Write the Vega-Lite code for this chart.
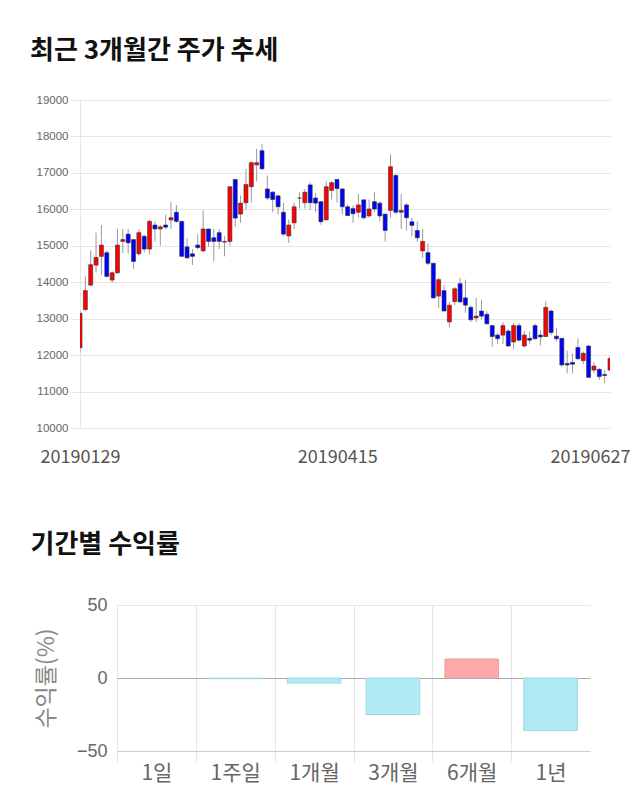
{
  "$schema": "https://vega.github.io/schema/vega-lite/v6.json",
  "background": "white",
  "padding": {"left": 30, "top": 38, "right": 0, "bottom": 0},
  "config": {"view": {"stroke": null}, "font": "Noto Sans CJK KR"},
  "datasets": {
    "price": [
      {"d":"20190129","o":12200,"h":13220,"l":12070,"c":13150},
      {"d":"20190130","o":13250,"h":14160,"l":13200,"c":13770},
      {"d":"20190131","o":13920,"h":14870,"l":13900,"c":14480},
      {"d":"20190207","o":14470,"h":15360,"l":14270,"c":14680},
      {"d":"20190208","o":14710,"h":15570,"l":14200,"c":15020},
      {"d":"20190211","o":14810,"h":14870,"l":14130,"c":14160},
      {"d":"20190212","o":14060,"h":14300,"l":13980,"c":14260},
      {"d":"20190213","o":14260,"h":15470,"l":14230,"c":15020},
      {"d":"20190214","o":15120,"h":15470,"l":14800,"c":15170},
      {"d":"20190215","o":15320,"h":15460,"l":14780,"c":15080},
      {"d":"20190218","o":15170,"h":15180,"l":14370,"c":14570},
      {"d":"20190219","o":14780,"h":15460,"l":14730,"c":15360},
      {"d":"20190220","o":15260,"h":15300,"l":14820,"c":14910},
      {"d":"20190221","o":14910,"h":15720,"l":14760,"c":15670},
      {"d":"20190222","o":15570,"h":15670,"l":15120,"c":15460},
      {"d":"20190225","o":15460,"h":15570,"l":15000,"c":15520},
      {"d":"20190226","o":15570,"h":15850,"l":15450,"c":15510},
      {"d":"20190227","o":15710,"h":16200,"l":15460,"c":15770},
      {"d":"20190228","o":15920,"h":16120,"l":15630,"c":15670},
      {"d":"20190304","o":15670,"h":15680,"l":14690,"c":14710},
      {"d":"20190305","o":14970,"h":15210,"l":14640,"c":14670},
      {"d":"20190306","o":14780,"h":14910,"l":14470,"c":14710},
      {"d":"20190307","o":15020,"h":15320,"l":14900,"c":14950},
      {"d":"20190308","o":14860,"h":15970,"l":14820,"c":15460},
      {"d":"20190311","o":15460,"h":15470,"l":14970,"c":15120},
      {"d":"20190312","o":15220,"h":15460,"l":14570,"c":15120},
      {"d":"20190313","o":15360,"h":15460,"l":14910,"c":15120},
      {"d":"20190314","o":15100,"h":15260,"l":14710,"c":15120},
      {"d":"20190315","o":15120,"h":16620,"l":15000,"c":16620},
      {"d":"20190318","o":16820,"h":16830,"l":15520,"c":15760},
      {"d":"20190319","o":15870,"h":16380,"l":15630,"c":16170},
      {"d":"20190320","o":16180,"h":17110,"l":15990,"c":16680},
      {"d":"20190321","o":16620,"h":17310,"l":16180,"c":17280},
      {"d":"20190322","o":17220,"h":17660,"l":16770,"c":17280},
      {"d":"20190325","o":17610,"h":17800,"l":17090,"c":17110},
      {"d":"20190326","o":16560,"h":16930,"l":16250,"c":16310},
      {"d":"20190327","o":16470,"h":16500,"l":15920,"c":16270},
      {"d":"20190328","o":16370,"h":16400,"l":15860,"c":16070},
      {"d":"20190329","o":15920,"h":16180,"l":15260,"c":15320},
      {"d":"20190401","o":15270,"h":15720,"l":15080,"c":15570},
      {"d":"20190402","o":15630,"h":16180,"l":15460,"c":16070},
      {"d":"20190403","o":16310,"h":16470,"l":16020,"c":16310},
      {"d":"20190404","o":16180,"h":16560,"l":16020,"c":16470},
      {"d":"20190405","o":16670,"h":16730,"l":15990,"c":16180},
      {"d":"20190408","o":16310,"h":16450,"l":15920,"c":16170},
      {"d":"20190409","o":16210,"h":16220,"l":15580,"c":15660},
      {"d":"20190410","o":15710,"h":16770,"l":15700,"c":16620},
      {"d":"20190411","o":16520,"h":16770,"l":16270,"c":16730},
      {"d":"20190412","o":16820,"h":16830,"l":16180,"c":16570},
      {"d":"20190415","o":16560,"h":16570,"l":15860,"c":16070},
      {"d":"20190416","o":16070,"h":16130,"l":15810,"c":15830},
      {"d":"20190417","o":16020,"h":16100,"l":15630,"c":15880},
      {"d":"20190418","o":15920,"h":16420,"l":15770,"c":16120},
      {"d":"20190419","o":16260,"h":16270,"l":15720,"c":15770},
      {"d":"20190422","o":15820,"h":16270,"l":15770,"c":16010},
      {"d":"20190423","o":16210,"h":16470,"l":15920,"c":16010},
      {"d":"20190424","o":16170,"h":16210,"l":15670,"c":15820},
      {"d":"20190425","o":15870,"h":15870,"l":15120,"c":15420},
      {"d":"20190426","o":15970,"h":17510,"l":15770,"c":17170},
      {"d":"20190429","o":16930,"h":16970,"l":15860,"c":15920},
      {"d":"20190430","o":15920,"h":16420,"l":15460,"c":15970},
      {"d":"20190502","o":16120,"h":16170,"l":15420,"c":15770},
      {"d":"20190503","o":15660,"h":15770,"l":15260,"c":15560},
      {"d":"20190507","o":15420,"h":15660,"l":15110,"c":15220},
      {"d":"20190508","o":14860,"h":15460,"l":14670,"c":15120},
      {"d":"20190509","o":14810,"h":15060,"l":14470,"c":14520},
      {"d":"20190510","o":14520,"h":14530,"l":13550,"c":13570},
      {"d":"20190513","o":13620,"h":14120,"l":13290,"c":14070},
      {"d":"20190514","o":13770,"h":13920,"l":13200,"c":13210},
      {"d":"20190515","o":12910,"h":13460,"l":12760,"c":13370},
      {"d":"20190516","o":13470,"h":13870,"l":13370,"c":13820},
      {"d":"20190517","o":13960,"h":14120,"l":13430,"c":13460},
      {"d":"20190520","o":13570,"h":14070,"l":13160,"c":13370},
      {"d":"20190521","o":13310,"h":13370,"l":12910,"c":12970},
      {"d":"20190522","o":13020,"h":13570,"l":12910,"c":13070},
      {"d":"20190523","o":13210,"h":13520,"l":12980,"c":13070},
      {"d":"20190524","o":13120,"h":13200,"l":12830,"c":12860},
      {"d":"20190527","o":12810,"h":12830,"l":12220,"c":12510},
      {"d":"20190528","o":12550,"h":12600,"l":12310,"c":12450},
      {"d":"20190529","o":12550,"h":12900,"l":12310,"c":12810},
      {"d":"20190530","o":12660,"h":12720,"l":12220,"c":12250},
      {"d":"20190531","o":12360,"h":12880,"l":12160,"c":12810},
      {"d":"20190603","o":12810,"h":12880,"l":12370,"c":12410},
      {"d":"20190604","o":12250,"h":12660,"l":12210,"c":12550},
      {"d":"20190605","o":12460,"h":12650,"l":12310,"c":12410},
      {"d":"20190607","o":12810,"h":12860,"l":12420,"c":12450},
      {"d":"20190610","o":12550,"h":12690,"l":12260,"c":12500},
      {"d":"20190611","o":12510,"h":13470,"l":12500,"c":13310},
      {"d":"20190612","o":13210,"h":13240,"l":12550,"c":12620},
      {"d":"20190613","o":12520,"h":12740,"l":12370,"c":12450},
      {"d":"20190614","o":12460,"h":12470,"l":11670,"c":11730},
      {"d":"20190617","o":11770,"h":12120,"l":11500,"c":11730},
      {"d":"20190618","o":11800,"h":12050,"l":11500,"c":11750},
      {"d":"20190619","o":12210,"h":12460,"l":11870,"c":11900},
      {"d":"20190620","o":11850,"h":12100,"l":11750,"c":12050},
      {"d":"20190621","o":12250,"h":12260,"l":11380,"c":11390},
      {"d":"20190624","o":11590,"h":11800,"l":11500,"c":11700},
      {"d":"20190625","o":11610,"h":11640,"l":11320,"c":11410},
      {"d":"20190626","o":11470,"h":11590,"l":11230,"c":11440},
      {"d":"20190627","o":11590,"h":11980,"l":11550,"c":11910}
    ],
    "ret": [
      {"p":"1일","v":0},
      {"p":"1주일","v":-0.5},
      {"p":"1개월","v":-3.5},
      {"p":"3개월","v":-25},
      {"p":"6개월","v":13},
      {"p":"1년","v":-36}
    ]
  },
  "vconcat": [
    {
      "title": {"text": "최근 3개월간 주가 추세", "anchor": "start", "fontSize": 26, "fontWeight": "bold", "color": "#111", "font": "Noto Sans CJK KR", "dx": -6, "offset": 30},
      "width": 530,
      "height": 328,
      "data": {"name": "price"},
      "encoding": {
        "x": {
          "field": "d", "type": "ordinal",
          "scale": {"type": "point", "padding": 0},
          "axis": {
            "values": ["20190129", "20190415", "20190627"],
            "title": null, "ticks": false, "domain": false, "grid": false,
            "labelAngle": 0, "labelFontSize": 18, "labelColor": "#555", "labelPadding": 20,
            "labelFont": "Noto Sans CJK KR", "labelOverlap": false,
            "labelOffset": {"condition": [
              {"test": "datum.value === '20190627'", "value": -20},
              {"test": "datum.value === '20190415'", "value": -5}
            ], "value": 0}
          }
        }
      },
      "layer": [
        {
          "mark": {"type": "rule", "color": "#9a9a9a", "strokeWidth": 1, "clip": true},
          "encoding": {
            "y": {
              "field": "l", "type": "quantitative",
              "scale": {"domain": [10000, 19000], "zero": false, "nice": false},
              "axis": {
                "values": [10000, 11000, 12000, 13000, 14000, 15000, 16000, 17000, 18000, 19000],
                "title": null, "grid": true, "gridColor": "#e6e6e6",
                "domainColor": "#e6e6e6", "tickColor": "#e6e6e6", "tickSize": 10,
                "labelPadding": 2, "labelFont": "Liberation Sans", "labelFontSize": 11.5,
                "labelColor": "#666", "format": "d", "labelOverlap": false
              }
            },
            "y2": {"field": "h"}
          }
        },
        {
          "mark": {"type": "bar", "width": 4, "stroke": "#333", "strokeWidth": 0.6, "clip": true},
          "encoding": {
            "y": {
              "field": "o", "type": "quantitative",
              "axis": {
                "values": [10000, 11000, 12000, 13000, 14000, 15000, 16000, 17000, 18000, 19000],
                "title": null, "grid": true, "gridColor": "#e6e6e6",
                "domainColor": "#e6e6e6", "tickColor": "#e6e6e6", "tickSize": 10,
                "labelPadding": 2, "labelFont": "Liberation Sans", "labelFontSize": 11.5,
                "labelColor": "#666", "format": "d", "labelOverlap": false
              }
            },
            "y2": {"field": "c"},
            "color": {"condition": {"test": "datum.c >= datum.o", "value": "#ff0000"}, "value": "#0000ff"}
          }
        }
      ]
    },
    {
      "title": {"text": "기간별 수익률", "anchor": "start", "fontSize": 26, "fontWeight": "bold", "color": "#111", "font": "Noto Sans CJK KR", "dx": -5, "offset": 38},
      "width": 510,
      "height": 146,
      "data": {"name": "ret"},
      "mark": {"type": "bar", "strokeWidth": 1, "width": {"band": 0.68}},
      "encoding": {
        "x": {
          "field": "p", "type": "nominal", "sort": null,
          "scale": {"paddingInner": 0, "paddingOuter": 0, "range": [37, 510]},
          "axis": {
            "title": null, "tickBand": "extent", "grid": true,
            "gridColor": {"condition": {"test": "datum.value === '1년'", "value": "transparent"}, "value": "#e6e6e6"},
            "ticks": true, "tickSize": 11,
            "tickColor": {"condition": {"test": "datum.value === '1년'", "value": "transparent"}, "value": "#e6e6e6"},
            "domain": true, "domainColor": "#cccccc",
            "labelAngle": 0, "labelFontSize": 21, "labelColor": "#666", "labelPadding": 0,
            "labelFont": "Noto Sans CJK KR"
          }
        },
        "y": {
          "field": "v", "type": "quantitative",
          "scale": {"domain": [-50, 50], "nice": false},
          "axis": {
            "values": [-50, 0, 50], "grid": true, "offset": -37,
            "gridColor": {"condition": {"test": "datum.value === 0", "value": "#a8a8a8"}, "value": "#e6e6e6"},
            "domain": false, "ticks": false, "labelPadding": 10,
            "labelFont": "Liberation Sans", "labelFontSize": 18, "labelColor": "#666",
            "title": "수익률(%)", "titleFont": "Noto Sans CJK KR", "titleFontSize": 23,
            "titleFontWeight": "normal", "titleColor": "#888", "titlePadding": 18
          }
        },
        "color": {"condition": {"test": "datum.v >= 0", "value": "#ffa8a8"}, "value": "#b0eaf2"},
        "stroke": {"condition": [
          {"test": "datum.v > 0", "value": "#e8a0a0"},
          {"test": "datum.v < 0", "value": "#9dd8e2"}
        ], "value": "transparent"}
      }
    }
  ],
  "spacing": 66
}
